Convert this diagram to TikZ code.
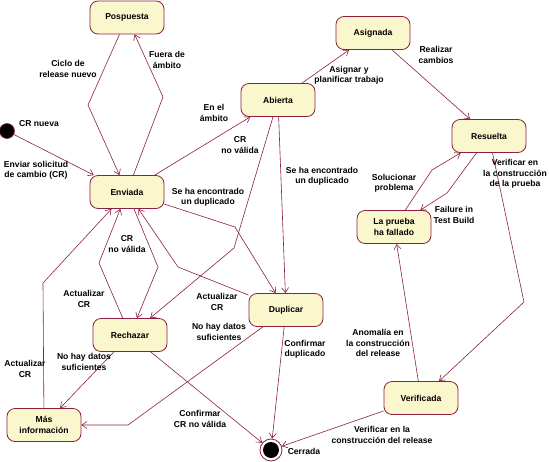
\documentclass[tikz,border=0pt]{standalone}
\usepackage{fontspec}
\setmainfont{Liberation Sans}
\usetikzlibrary{arrows.meta}
\definecolor{edgered}{RGB}{140,32,62}
\definecolor{statefill}{RGB}{251,247,205}
\begin{document}
\begin{tikzpicture}[x=1pt,y=-1pt,
  font=\fontsize{8.6}{10.4}\selectfont\bfseries,
  state/.style={draw=edgered, fill=statefill, line width=0.8pt, rounded corners=8pt,
    minimum width=74pt, minimum height=33pt, inner sep=1pt, align=center},
  lbl/.style={align=center, inner sep=0pt},
  flow/.style={draw=edgered, line width=0.6pt, -{Straight Barb[length=5pt,width=7pt]}},
]
\useasboundingbox (0,0) rectangle (549,461);

% states
\node[state] (pospuesta) at (127,17.5) {Pospuesta};
\node[state] (asignada)  at (373,33)   {Asignada};
\node[state] (abierta)   at (278,100)  {Abierta};
\node[state] (resuelta)  at (489,136)  {Resuelta};
\node[state] (fallado)   at (394,227)  {La prueba\\ha fallado};
\node[state] (enviada)   at (127,192)  {Enviada};
\node[state] (duplicar)  at (286,310)  {Duplicar};
\node[state] (rechazar)  at (130,335)  {Rechazar};
\node[state] (masinfo)   at (44,425)   {Más\\información};
\node[state] (verificada) at (421,398) {Verificada};

% pseudo states
\node[circle, fill=black, draw=edgered, line width=0.6pt, minimum size=15pt, inner sep=0pt] (inicio) at (7,131) {};
\node[circle, draw=edgered, line width=0.8pt, minimum size=22pt, inner sep=0pt] (fin) at (271,450) {};
\fill[black] (fin.center) circle (8pt);

% bend points
\coordinate (bFuera)  at (163,97);
\coordinate (bCiclo)  at (88,105);
\coordinate (bFail)   at (447,193);
\coordinate (bSol)    at (432,170);
\coordinate (bVerif)  at (524,302);
\coordinate (bAbRech) at (234,248);
\coordinate (bEnvDup) at (235,227);
\coordinate (bDupEnv) at (178,267);
\coordinate (bEnvRech) at (158,267);
\coordinate (bRechEnv) at (99,263);
\coordinate (bMasEnv) at (43,283);
\coordinate (bDupMas) at (128,425);

% transitions
\draw[flow] (inicio) -- (enviada);
\draw[flow] (enviada) -- (bFuera) -- (pospuesta);
\draw[flow] (pospuesta) -- (bCiclo) -- (enviada);
\draw[flow] (enviada) -- (abierta);
\draw[flow] (abierta) -- (asignada);
\draw[flow] (asignada) -- (resuelta);
\draw[flow] (resuelta) -- (bFail) -- (fallado);
\draw[flow] (fallado) -- (bSol) -- (resuelta);
\draw[flow] (resuelta) -- (bVerif) -- (verificada);
\draw[flow] (verificada) -- (fallado);
\draw[flow] (verificada) -- (fin);
\draw[flow] (abierta) -- (duplicar);
\draw[flow] (abierta) -- (bAbRech) -- (rechazar);
\draw[flow] (enviada) -- (bEnvDup) -- (duplicar);
\draw[flow] (duplicar) -- (bDupEnv) -- (enviada);
\draw[flow] (enviada) -- (bEnvRech) -- (rechazar);
\draw[flow] (rechazar) -- (bRechEnv) -- (enviada);
\draw[flow] (masinfo) -- (bMasEnv) -- (enviada);
\draw[flow] (rechazar) -- (masinfo);
\draw[flow] (duplicar) -- (bDupMas) -- (masinfo);
\draw[flow] (rechazar) -- (fin);
\draw[flow] (duplicar) -- (fin);

% labels
\node[lbl] (lNueva)   at (39,124)  {CR nueva};
\node[lbl] (lEnviar)  at (36,170)  {Enviar solicitud\\de cambio (CR)};
\node[lbl] (lCiclo)   at (68,69)   {Ciclo de\\release nuevo};
\node[lbl] (lFuera)   at (167,60)  {Fuera de\\ámbito};
\node[lbl] (lEnEl)    at (214,113) {En el\\ámbito};
\node[lbl] (lNoVal1)  at (240,145) {CR\\no válida};
\node[lbl] (lDup1)    at (208,197) {Se ha encontrado\\un duplicado};
\node[lbl] (lAsignar) at (349,75)  {Asignar y\\planificar trabajo};
\node[lbl] (lRealizar) at (436,55) {Realizar\\cambios};
\node[lbl] (lDup2)    at (322,176) {Se ha encontrado\\un duplicado};
\node[lbl] (lSol)     at (394,183) {Solucionar\\problema};
\node[lbl] (lVerPr)   at (515,174) {Verificar en\\la construcción\\de la prueba};
\node[lbl] (lFail)    at (454,215) {Failure in\\Test Build};
\node[lbl] (lNoVal2)  at (127,244) {CR\\no válida};
\node[lbl] (lAct1)    at (84,299)  {Actualizar\\CR};
\node[lbl] (lAct2)    at (217,302) {Actualizar\\CR};
\node[lbl] (lNoHay1)  at (219,332) {No hay datos\\suficientes};
\node[lbl] (lNoHay2)  at (84,362)  {No hay datos\\suficientes};
\node[lbl] (lAct3)    at (25,369)  {Actualizar\\CR};
\node[lbl] (lConfCR)  at (200,419) {Confirmar\\CR no válida};
\node[lbl] (lConfDup) at (305,349) {Confirmar\\duplicado};
\node[lbl] (lAnom)    at (378,343) {Anomalía en\\la construcción\\del release};
\node[lbl] (lVerRel)  at (382,435) {Verificar en la\\construcción del release};
\node[lbl] (lCerrada) at (304,451) {Cerrada};
\end{tikzpicture}
\end{document}
